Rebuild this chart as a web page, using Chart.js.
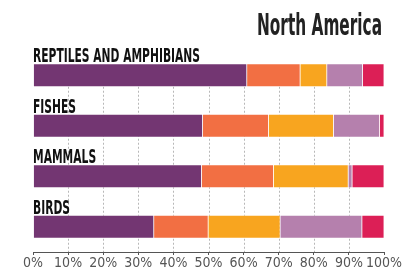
<!DOCTYPE html>
<html>
<head>
<meta charset="utf-8">
<script src="https://cdn.jsdelivr.net/npm/chart.js@4"></script>
<style>
  html, body { margin: 0; padding: 0; background: #fff; }
  #wrap { width: 404px; height: 271px; position: relative; }
</style>
</head>
<body>
<div id="wrap"><canvas id="chart" width="404" height="271"></canvas></div>
<script>
// Chart data (shares in percent)
const title = 'North America';
const groups = ['REPTILES AND AMPHIBIANS', 'FISHES', 'MAMMALS', 'BIRDS'];
const seg1 = [60.9, 48.3, 48.0, 34.4];
const seg2 = [15.2, 18.8, 20.5, 15.5];
const seg3 = [7.6, 18.5, 21.3, 20.5];
const seg4 = [10.2, 13.1, 1.1, 23.3];
const seg5 = [6.1, 1.3, 9.1, 6.3];
const colors = ['#733672', '#f26f43', '#f8a51f', '#b580ad', '#dc1f56'];
const xTicks = [0, 10, 20, 30, 40, 50, 60, 70, 80, 90, 100];

const narrow = "'Liberation Sans Narrow', 'DejaVu Sans Condensed', 'Liberation Sans', sans-serif";
const BAR = 23;

// Draw a string squeezed horizontally to the given width
function squeezeText(ctx, text, x, y, width, align) {
    const w = ctx.measureText(text).width;
    const sx = width ? width / w : 1;
    ctx.save();
    ctx.translate(x, y);
    ctx.scale(sx, 1);
    ctx.textAlign = 'left';
    ctx.fillText(text, align === 'right' ? -w : 0, 0);
    ctx.restore();
}

const decorPlugin = {
    id: 'decor',
    beforeDatasetsDraw(chart) {
        const { ctx, scales: { x, y }, chartArea } = chart;
        const top = y.getPixelForValue(0) + BAR / 2;
        ctx.save();
        ctx.strokeStyle = '#b8b8b8';
        ctx.lineWidth = 1;
        ctx.setLineDash([2, 2]);
        xTicks.slice(1, -1).forEach(v => {
            const px = Math.round(x.getPixelForValue(v)) + 0.5;
            ctx.beginPath();
            ctx.moveTo(px, top);
            ctx.lineTo(px, chartArea.bottom);
            ctx.stroke();
        });
        ctx.restore();
    },
    afterDraw(chart) {
        const { ctx, scales: { x, y } } = chart;
        ctx.save();
        ctx.fillStyle = '#111';
        ctx.textBaseline = 'alphabetic';
        ctx.font = 'bold 20px ' + narrow;
        // common squeeze factor so the longest label matches the picture
        const factor = 167 / ctx.measureText(groups[0]).width;
        groups.forEach((g, i) => {
            const by = y.getPixelForValue(i) - BAR / 2 - 1.5;
            const w = ctx.measureText(g).width * factor;
            squeezeText(ctx, g, x.getPixelForValue(0), by, w);
        });
        ctx.fillStyle = '#222';
        ctx.font = 'bold 31px ' + narrow;
        squeezeText(ctx, title, x.getPixelForValue(100) - 2, 35, 125, 'right');
        ctx.restore();
    }
};

const segs = [seg1, seg2, seg3, seg4, seg5];

new Chart(document.getElementById('chart'), {
    type: 'bar',
    data: {
        labels: groups,
        datasets: segs.map((s, i) => ({
            data: s,
            backgroundColor: colors[i],
            borderColor: 'rgba(255,255,255,0.35)',
            borderWidth: 0.75,
            borderSkipped: false,
            barThickness: BAR
        }))
    },
    options: {
        indexAxis: 'y',
        responsive: false,
        animation: false,
        layout: { padding: { left: 33, right: 20, top: 50, bottom: 0 } },
        plugins: {
            legend: { display: false },
            tooltip: { enabled: false }
        },
        scales: {
            x: {
                stacked: true,
                min: 0,
                max: 100,
                ticks: {
                    stepSize: 10,
                    padding: 1,
                    maxRotation: 0,
                    autoSkip: false,
                    color: '#555',
                    font: { family: narrow, size: 14, lineHeight: 1 },
                    callback: v => v + '%'
                },
                grid: {
                    drawOnChartArea: false,
                    tickLength: 3,
                    color: '#555'
                },
                border: { color: '#555', width: 1 }
            },
            y: {
                stacked: true,
                display: false
            }
        }
    },
    plugins: [decorPlugin]
});
</script>
</body>
</html>
